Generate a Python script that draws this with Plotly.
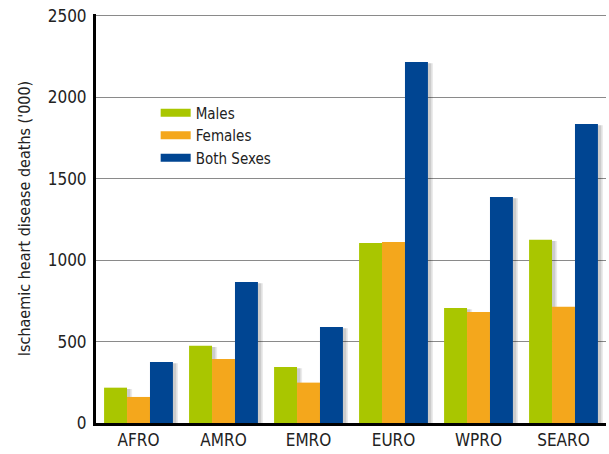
import plotly.graph_objects as go

regions = ["AFRO", "AMRO", "EMRO", "EURO", "WPRO", "SEARO"]
males = [217, 475, 344, 1106, 706, 1126]
females = [160, 393, 248, 1112, 682, 714]
both = [375, 866, 590, 2217, 1388, 1837]
y_ticks = [0, 500, 1000, 1500, 2000, 2500]

series = [("Males", males, "#A9C600"), ("Females", females, "#F4A71C"), ("Both Sexes", both, "#004592")]

FONT = "DejaVu Sans Condensed, Liberation Sans Narrow, Roboto, sans-serif"
w = 0.27
offsets = [-1.5 * w, -0.5 * w, 0.5 * w]

fig = go.Figure()
# soft drop shadows
for (name, vals, col), off in zip(series, offsets):
    for dx, a in [(0.06, 0.08), (0.04, 0.13)]:
        fig.add_trace(go.Bar(x=regions, y=[v - 8 for v in vals], width=w, offset=off + dx,
                             marker=dict(color=f"rgba(0,0,0,{a})", line=dict(width=0)),
                             showlegend=False, hoverinfo="skip"))
for (name, vals, col), off in zip(series, offsets):
    fig.add_trace(go.Bar(x=regions, y=vals, width=w, offset=off, name=name,
                         marker=dict(color=col, line=dict(width=0)), showlegend=False))
# legend entries with wide swatches
for name, vals, col in series:
    fig.add_trace(go.Scatter(x=[None], y=[None], mode="lines", name=name,
                             line=dict(color=col, width=8)))

fig.update_layout(
    width=609, height=454,
    margin=dict(l=96, r=3, t=14, b=31),
    barmode="overlay",
    plot_bgcolor="white", paper_bgcolor="white",
    font=dict(family=FONT, size=16, color="#222"),
    showlegend=True,
    legend=dict(x=0.117, y=0.798, xanchor="left", yanchor="top",
                bgcolor="rgba(0,0,0,0)", font=dict(size=15, family=FONT),
                itemwidth=30, tracegroupgap=0),
    xaxis=dict(showline=True, linecolor="black", linewidth=3, ticks="", showgrid=False,
               tickfont=dict(size=17), range=[-0.5, 5.5]),
    yaxis=dict(range=[0, 2512], tickmode="array", tickvals=y_ticks, showgrid=True,
               gridcolor="#8a8a8a", gridwidth=1,
               showline=True, linecolor="black", linewidth=3, ticks="", zeroline=False,
               tickfont=dict(size=17), ticklabelstandoff=3,
               title=dict(text="Ischaemic heart disease deaths ('000)", font=dict(size=16), standoff=14)),
)

fig.write_html("out.html", config={"displayModeBar": False},
               post_script="document.body.style.margin='0';")
